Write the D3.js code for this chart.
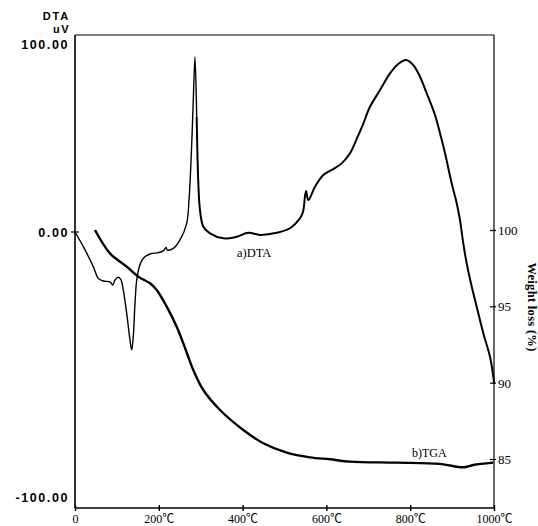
<!DOCTYPE html>
<html><head><meta charset="utf-8">
<script src="https://cdn.jsdelivr.net/npm/d3@7"></script>
<style>
html,body{margin:0;padding:0;background:#fff;}
svg{display:block;}
</style></head>
<body>
<svg id="chart" width="538" height="526"></svg>
<script>
// Temperature (°C) and DTA signal (uV)
const dtaTemp = [0,21.5,43.7,55.6,67.5,83.5,90,95.5,103.3,109.8,115.3,123.4,131.3,135.3,139.1,143.2,147.3,153.5,163,179,198.8,210.7,217.2,220.3,234.6,250.6,266.6,272.1,278,282.3,286.4,290.4,294.3,298.3,306.2,322.2,353.9,385.9,413.6,441.5,481.4,513.1,537,544.1,551.3,556.8,572.8,592.6,612.7,636.5,656.3,672.3,688.1,704,727.9,751.8,771.6,790,807.4,823.4,839.4,859.2,871.1,883.1,899,911,918.8,926.7,934.8,946.8,958.7,974.5,990.5,998.3,1000];
const dtaValue = [0,-6.0,-13.1,-17.5,-18.5,-18.8,-20.0,-18.1,-17.1,-18.1,-21.9,-30.7,-40.8,-44.5,-39.5,-26.9,-18.1,-13.1,-9.9,-8.3,-7.8,-7.1,-5.8,-6.8,-6.2,-3.0,4.6,17.0,43.6,70.2,93.1,61.3,26.1,11.7,2.8,-0.5,-2.4,-1.8,-0.3,-1.1,-0.3,2.0,7.3,10.6,21.8,17.0,24.1,30.3,33.0,36.5,41.9,49.5,57.7,66.6,75.5,84.4,89.4,91.5,88.8,82.6,73.8,62.2,52.5,41.9,25.9,15.3,6.4,-4.3,-11.8,-20.6,-28.2,-38.2,-47.1,-54.6,-57];
// Temperature (°C) and TGA weight (%)
const tgaTemp = [47.7,83.5,123.4,151.1,179,195,218.9,242.7,258.5,270.4,282.3,306.2,346.1,401.7,449.4,505.2,560.9,608.6,656.3,767.8,870.4,926.7,950.6,998.3];
const tgaValue = [100,98.47,97.6,96.94,96.51,96.07,94.98,93.67,92.57,91.68,90.83,89.52,88.21,86.9,86.03,85.42,85.11,84.98,84.83,84.76,84.68,84.46,84.61,84.76];
// Axis ticks and labels
const xTicks = [0,200,400,600,800,1000];
const xTickLabels = ["0","200℃","400℃","600℃","800℃","1000℃"];
const dtaTicks = [100,0,-100];
const dtaTickLabels = ["100.00","0.00","-100.00"];
const tgaTicks = [100,95,90,85];
const tgaTickLabels = ["100","95","90","85"];

const svg = d3.select("#chart");
const x = d3.scaleLinear().domain([0,1000]).range([75,494]);
const yD = d3.scaleLinear().domain([-100,0,100]).range([497,232,44]);
const yT = d3.scaleLinear().domain([85,100]).range([459,230]);
const topY = 35, bottomY = 508;

// frame
const frame = svg.append("g").attr("stroke","#000").attr("fill","none");
frame.append("line").attr("x1",x(0)).attr("x2",x(1000)).attr("y1",topY).attr("y2",topY).attr("stroke-width",1);
frame.append("line").attr("x1",x(0)).attr("x2",x(0)).attr("y1",topY).attr("y2",bottomY).attr("stroke-width",1.6);
frame.append("line").attr("x1",x(1000)).attr("x2",x(1000)).attr("y1",topY).attr("y2",bottomY).attr("stroke-width",1.2);
frame.append("line").attr("x1",x(0)).attr("x2",x(1000)).attr("y1",bottomY).attr("y2",bottomY).attr("stroke-width",1.6);

// bottom axis
const xAxis = d3.axisBottom(x).tickValues(xTicks).tickSize(0).tickFormat((d,i)=>xTickLabels[i]);
const gx = svg.append("g").attr("transform",`translate(0,${bottomY})`).call(xAxis);
gx.select(".domain").remove();
gx.selectAll("text").attr("y",11).attr("dy","0.3em")
  .attr("font-family","'Liberation Serif','Noto Sans CJK SC',serif").attr("font-size",12).attr("fill","#000");
gx.selectAll(".tick").append("line").attr("y1",-3).attr("y2",3).attr("stroke","#000").attr("stroke-width",1.4);

// left axis (DTA)
const yAxisL = d3.axisLeft(yD).tickValues(dtaTicks).tickSize(0).tickFormat((d,i)=>dtaTickLabels[i]);
const gl = svg.append("g").attr("transform",`translate(${x(0)-6},0)`).call(yAxisL);
gl.select(".domain").remove();
gl.selectAll("text").attr("x",0).attr("dy","0.35em")
  .attr("font-family","'Liberation Sans',Arial,sans-serif").attr("font-size",12.5)
  .attr("letter-spacing",1.6).attr("font-weight","bold").attr("fill","#000");
svg.append("line").attr("x1",x(0)-4).attr("x2",x(0)+4).attr("y1",yD(0)).attr("y2",yD(0)).attr("stroke","#000").attr("stroke-width",1.2);
svg.append("text").attr("x",70).attr("y",20).attr("text-anchor","end")
  .attr("font-family","'Liberation Sans',Arial,sans-serif").attr("font-size",11).attr("letter-spacing",1.8)
  .attr("font-weight","bold").text("DTA");
svg.append("text").attr("x",70).attr("y",33).attr("text-anchor","end")
  .attr("font-family","'Liberation Sans',Arial,sans-serif").attr("font-size",11).attr("letter-spacing",1.5)
  .attr("font-weight","bold").text("uV");

// right axis (TGA)
const yAxisR = d3.axisRight(yT).tickValues(tgaTicks).tickSize(0).tickFormat((d,i)=>tgaTickLabels[i]);
const gr = svg.append("g").attr("transform",`translate(${x(1000)},0)`).call(yAxisR);
gr.select(".domain").remove();
gr.selectAll("text").attr("x",4).attr("dy","0.35em")
  .attr("font-family","'Liberation Serif',serif").attr("font-size",13).attr("fill","#000");
gr.selectAll(".tick").append("line").attr("x1",-4).attr("x2",2).attr("stroke","#000").attr("stroke-width",1.2);
svg.append("text").attr("transform","translate(528,307) rotate(90)").attr("text-anchor","middle")
  .attr("font-family","'Liberation Serif',serif").attr("font-size",12.5).attr("font-weight","bold")
  .attr("letter-spacing",0.3).text("Weight  loss  (%)");

// curves
const dtaData = dtaTemp.map((t,i)=>({t, v: dtaValue[i]}));
const tgaData = tgaTemp.map((t,i)=>({t, v: tgaValue[i]}));
const lineD = d3.line().x(d=>x(d.t)).y(d=>yD(d.v)).curve(d3.curveCatmullRom.alpha(0.5));
const lineT = d3.line().x(d=>x(d.t)).y(d=>yT(d.v)).curve(d3.curveCatmullRom.alpha(0.5));
const split = dtaTemp.indexOf(290.4);
svg.append("path").datum(dtaData.slice(0, split+1)).attr("d",lineD).attr("fill","none").attr("stroke","#000").attr("stroke-width",1.4).attr("stroke-linejoin","round");
svg.append("path").datum(dtaData.slice(split)).attr("d",lineD).attr("fill","none").attr("stroke","#000").attr("stroke-width",2).attr("stroke-linejoin","round");
svg.append("path").datum(tgaData).attr("d",lineT).attr("fill","none").attr("stroke","#000").attr("stroke-width",2.4).attr("stroke-linejoin","round");

// curve labels
svg.append("text").attr("x",237).attr("y",257).attr("font-family","'Liberation Serif',serif").attr("font-size",12.5).text("a)DTA");
svg.append("text").attr("x",412).attr("y",457).attr("font-family","'Liberation Serif',serif").attr("font-size",12).text("b)TGA");
</script>
</body></html>
